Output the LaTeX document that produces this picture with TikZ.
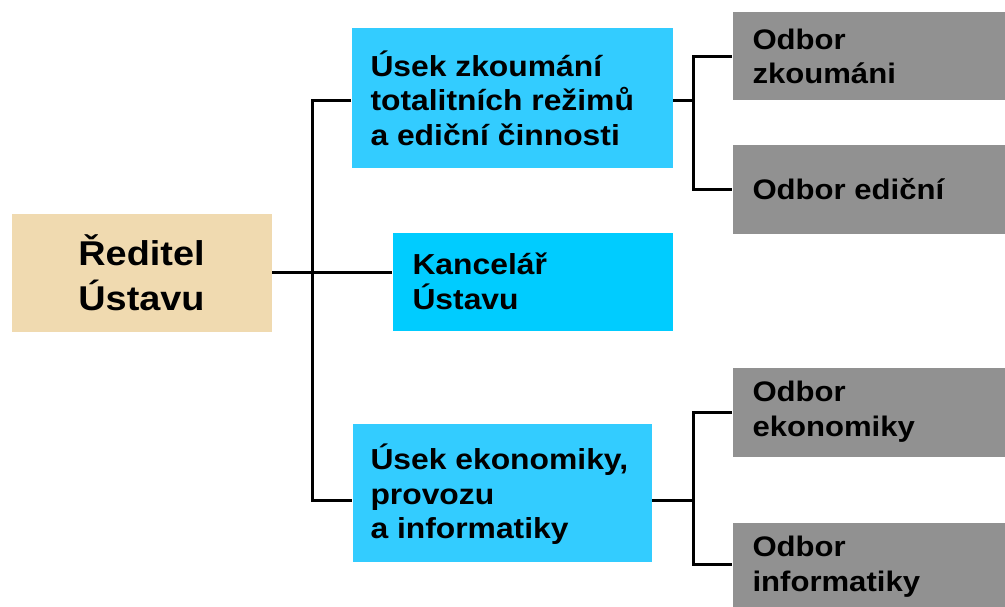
\documentclass[tikz,border=0pt]{standalone}
\usepackage{fontspec}
\setmainfont[FakeStretch=1.1]{Liberation Sans}
\usetikzlibrary{calc}

\begin{document}
\tikzset{every picture/.style={line width=0.75pt}}

\begin{tikzpicture}[x=0.75pt,y=0.75pt,yscale=-1,xscale=1,
  box/.style={draw=none, inner sep=0pt, anchor=north west},
  txt/.style={anchor=west, align=left, inner sep=0pt, font=\bfseries\fontsize{21.7}{26}\selectfont},
  odbtxt/.style={txt, font=\bfseries\fontsize{21.2}{26}\selectfont},
  spoj/.style={line width=2.25pt, line join=miter}]
\useasboundingbox (0,0) rectangle (1005,606);

%Shape: Rectangle [reditel]
\node[box, fill={rgb, 255:red, 240; green, 218; blue, 176 }, minimum width=195pt, minimum height=88.5pt] (reditel) at (11,213) {};
%Shape: Rectangle [usek 1]
\node[box, fill={rgb, 255:red, 51; green, 204; blue, 255 }, minimum width=240.75pt, minimum height=104.25pt] (usek1) at (351,28) {};
%Shape: Rectangle [kancelar]
\node[box, fill={rgb, 255:red, 0; green, 204; blue, 255 }, minimum width=210pt, minimum height=73.5pt] (kancelar) at (392,232) {};
%Shape: Rectangle [usek 3]
\node[box, fill={rgb, 255:red, 51; green, 204; blue, 255 }, minimum width=224.25pt, minimum height=103.5pt] (usek3) at (352,423) {};
%Shape: Rectangle [odbory]
\node[box, fill={rgb, 255:red, 145; green, 145; blue, 145 }, minimum width=204.75pt, minimum height=66pt] (zkoumani) at (732,12) {};
\node[box, fill={rgb, 255:red, 145; green, 145; blue, 145 }, minimum width=204.75pt, minimum height=66pt] (edicni) at (732,145) {};
\node[box, fill={rgb, 255:red, 145; green, 145; blue, 145 }, minimum width=204.75pt, minimum height=66.75pt] (ekonomiky) at (732,367) {};
\node[box, fill={rgb, 255:red, 145; green, 145; blue, 145 }, minimum width=204.75pt, minimum height=63pt] (informatiky) at (732,522) {};

%Straight Lines
\draw[spoj] (reditel.east) -- (reditel.east -| kancelar.west);
\draw[spoj] ($(usek1.west)+(0,2.5)$) -- ++(-39,0) |- ($(usek3.west)+(0,8)$);
\draw[spoj] ($(usek1.east)+(0,2.5)$) -- ++(20,0);
\draw[spoj] (zkoumani.west) -| ($(usek1.east)+(20,0)$) |- (edicni.west);
\draw[spoj] ($(usek3.east)+(0,8)$) -- ++(41,0);
\draw[spoj] (ekonomiky.west) -| ($(usek3.east)+(41,0)$) |- (informatiky.west);

% Text Node
\node[align=center, inner sep=0pt, font=\bfseries\fontsize{25.8}{34}\selectfont] (t-reditel) at (reditel.center) {Ředitel\\Ústavu};
% Text Node
\node[txt] (t-usek1) at ($(usek1.west)+(19,0)$) {Úsek zkoumání\\totalitních režimů\\a ediční činnosti};
% Text Node
\node[txt] (t-kancelar) at ($(kancelar.west)+(20,0)$) {Kancelář\\Ústavu};
% Text Node
\node[txt] (t-usek3) at ($(usek3.west)+(18,2)$) {Úsek ekonomiky,\\provozu\\a informatiky};
% Text Node
\node[odbtxt] (t-zkoumani) at ($(zkoumani.west)+(20,0)$) {Odbor\\zkoumáni};
\node[odbtxt] (t-edicni) at ($(edicni.west)+(20,0)$) {Odbor ediční};
\node[odbtxt] (t-ekonomiky) at ($(ekonomiky.west)+(20,0)$) {Odbor\\ekonomiky};
\node[odbtxt] (t-informatiky) at ($(informatiky.west)+(20,2)$) {Odbor\\informatiky};

\end{tikzpicture}
\end{document}
